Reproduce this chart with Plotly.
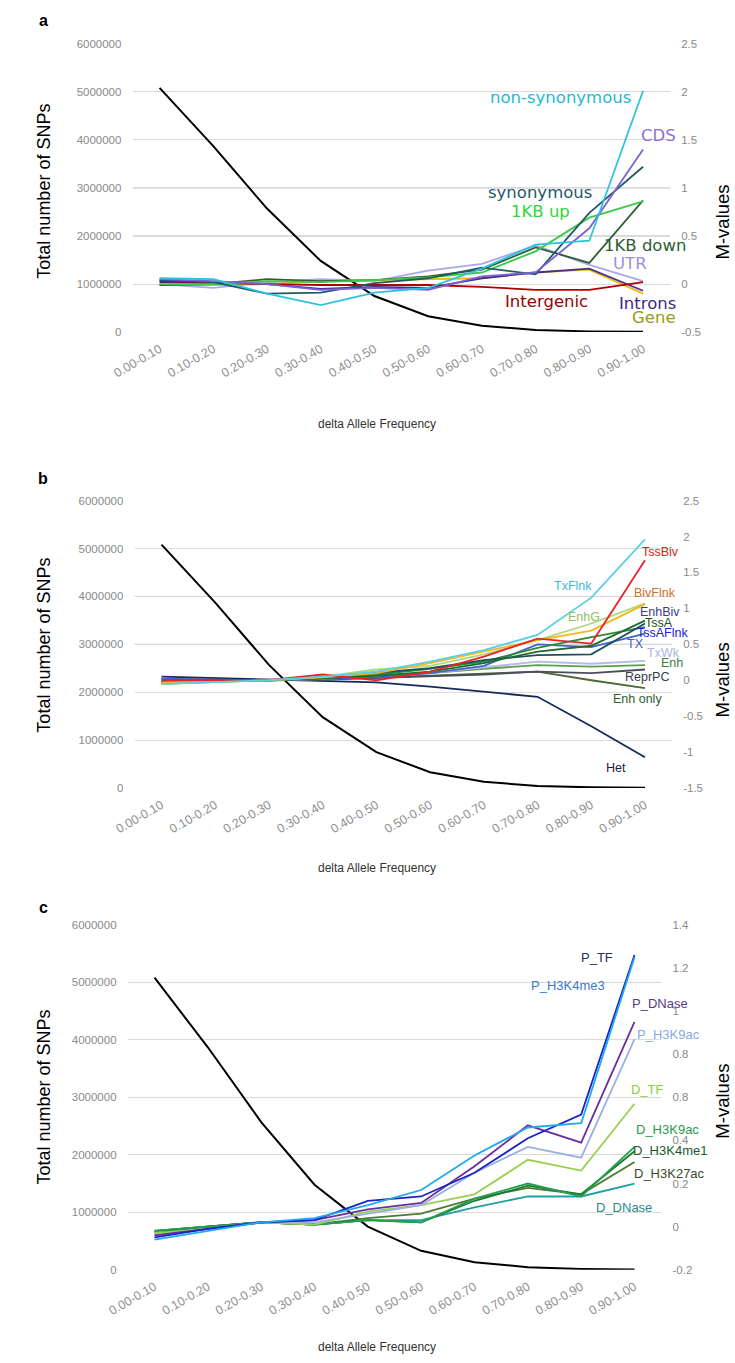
import plotly.graph_objects as go

W, H = 735, 1363

categories = ["0.00-0.10", "0.10-0.20", "0.20-0.30", "0.30-0.40", "0.40-0.50",
              "0.50-0.60", "0.60-0.70", "0.70-0.80", "0.80-0.90", "0.90-1.00"]

total_snps = [5080000, 3870000, 2570000, 1480000, 750000, 330000, 130000, 45000, 15000, 5000]

# ---- panel a (genomic annotation) M-values ----
a_nonsyn = [0.06, 0.05, -0.10, -0.22, -0.09, -0.04, 0.16, 0.41, 0.45, 2.01]
a_cds = [0.05, 0.03, 0.0, -0.06, -0.04, -0.06, 0.08, 0.12, 0.58, 1.40]
a_syn = [0.04, 0.02, -0.10, -0.09, 0.01, 0.06, 0.17, 0.10, 0.74, 1.22]
a_up1kb = [0.0, 0.0, 0.03, 0.02, 0.04, 0.07, 0.12, 0.34, 0.69, 0.86]
a_down1kb = [-0.01, 0.0, 0.05, 0.03, 0.04, 0.08, 0.15, 0.38, 0.22, 0.87]
a_utr = [0.0, -0.04, 0.02, 0.05, 0.03, 0.14, 0.21, 0.40, 0.20, 0.03]
a_intergenic = [0.03, 0.02, 0.0, -0.01, -0.01, -0.01, -0.03, -0.06, -0.06, 0.02]
a_introns = [0.02, 0.01, 0.0, -0.05, -0.03, -0.04, 0.06, 0.12, 0.16, -0.07]
a_gene = [-0.01, -0.01, 0.0, 0.03, 0.04, 0.05, 0.06, 0.12, 0.15, -0.10]

# ---- panel b (chromatin states) M-values ----
b_txflnk = [-0.05, -0.02, 0.0, 0.05, 0.12, 0.26, 0.42, 0.63, 1.15, 1.96]
b_tssbiv = [0.0, 0.0, 0.0, 0.08, 0.0, 0.12, 0.33, 0.58, 0.51, 1.67]
b_bivflnk = [-0.03, -0.01, 0.0, 0.04, 0.10, 0.24, 0.40, 0.56, 0.69, 1.06]
b_enhg = [-0.05, -0.02, 0.0, 0.05, 0.15, 0.20, 0.36, 0.56, 0.79, 1.07]
b_enhbiv = [0.0, 0.0, 0.0, 0.03, 0.06, 0.12, 0.24, 0.40, 0.48, 0.83]
b_tssa = [-0.03, -0.01, 0.0, 0.04, 0.10, 0.17, 0.28, 0.35, 0.36, 0.79]
b_tssaflnk = [-0.02, 0.0, 0.0, 0.03, 0.08, 0.16, 0.26, 0.45, 0.60, 0.74]
b_tx = [0.02, 0.01, 0.0, 0.02, 0.04, 0.10, 0.20, 0.50, 0.46, 0.65]
b_txwk = [0.0, 0.0, 0.0, 0.02, 0.05, 0.10, 0.18, 0.26, 0.23, 0.27]
b_enh = [-0.04, -0.02, 0.0, 0.03, 0.07, 0.10, 0.16, 0.21, 0.19, 0.21]
b_reprpc = [0.02, 0.01, 0.0, 0.01, 0.03, 0.05, 0.08, 0.12, 0.10, 0.15]
b_enhonly = [-0.05, -0.02, 0.0, 0.01, 0.04, 0.07, 0.10, 0.12, 0.0, -0.11]
b_het = [0.05, 0.03, 0.0, -0.01, -0.03, -0.09, -0.16, -0.23, -0.64, -1.07]

# ---- panel c (promoter / distal features) M-values ----
c_p_tf = [-0.05, -0.01, 0.02, 0.03, 0.12, 0.14, 0.25, 0.41, 0.52, 1.26]
c_p_h3k4me3 = [-0.06, -0.02, 0.02, 0.04, 0.10, 0.17, 0.33, 0.46, 0.48, 1.25]
c_p_dnase = [-0.04, -0.01, 0.02, 0.03, 0.08, 0.11, 0.28, 0.47, 0.39, 0.95]
c_p_h3k9ac = [-0.04, -0.01, 0.02, 0.02, 0.06, 0.10, 0.25, 0.37, 0.32, 0.87]
c_d_tf = [-0.03, -0.01, 0.02, 0.01, 0.07, 0.10, 0.15, 0.31, 0.26, 0.57]
c_d_h3k9ac = [-0.02, 0.0, 0.02, 0.01, 0.03, 0.02, 0.13, 0.20, 0.14, 0.37]
c_d_h3k4me1 = [-0.02, 0.0, 0.02, 0.01, 0.03, 0.02, 0.12, 0.19, 0.15, 0.35]
c_d_h3k27ac = [-0.03, 0.0, 0.02, 0.01, 0.04, 0.06, 0.13, 0.18, 0.15, 0.30]
c_d_dnase = [-0.02, 0.0, 0.02, 0.01, 0.03, 0.03, 0.09, 0.14, 0.14, 0.20]

left_ticks = [0, 1000000, 2000000, 3000000, 4000000, 5000000, 6000000]
left_ticktext = [str(v) for v in left_ticks]
a_right_ticks = [-0.5, 0, 0.5, 1, 1.5, 2, 2.5]
a_right_text = ["-0.5", "0", "0.5", "1", "1.5", "2", "2.5"]
b_right_ticks = [-1.5, -1, -0.5, 0, 0.5, 1, 1.5, 2, 2.5]
b_right_text = ["-1.5", "-1", "-0.5", "0", "0.5", "1", "1.5", "2", "2.5"]
c_right_ticks = [-0.2, 0, 0.2, 0.4, 0.6, 0.8, 1.0, 1.2, 1.4]
c_right_text = ["-0.2", "0", "0.2", "0.4", "0.8", "0.8", "1", "1.2", "1.4"]

panel_a = [
    ("UTR", a_utr, "#aaa7ea"),
    ("Gene", a_gene, "#f0b810"),
    ("Introns", a_introns, "#4b2d8f"),
    ("Intergenic", a_intergenic, "#b00000"),
    ("1KB down", a_down1kb, "#2f5f35"),
    ("1KB up", a_up1kb, "#3cc84a"),
    ("synonymous", a_syn, "#1f5a68"),
    ("CDS", a_cds, "#7b62d6"),
    ("non-synonymous", a_nonsyn, "#2cc3e0"),
]
panel_b = [
    ("Het", b_het, "#14285e"),
    ("Enh only", b_enhonly, "#4a6a30"),
    ("ReprPC", b_reprpc, "#4c4c5e"),
    ("Enh", b_enh, "#5aa04e"),
    ("TxWk", b_txwk, "#b8b8ea"),
    ("TX", b_tx, "#3f64c8"),
    ("TssAFlnk", b_tssaflnk, "#2e8a3a"),
    ("TssA", b_tssa, "#1b4f5e"),
    ("EnhBiv", b_enhbiv, "#1f6b2a"),
    ("EnhG", b_enhg, "#b0d878"),
    ("BivFlnk", b_bivflnk, "#f2b81a"),
    ("TssBiv", b_tssbiv, "#e8232b"),
    ("TxFlnk", b_txflnk, "#5ad0e6"),
]
panel_c = [
    ("D_DNase", c_d_dnase, "#1fa0a0"),
    ("D_H3K27ac", c_d_h3k27ac, "#4d7a2e"),
    ("D_H3K4me1", c_d_h3k4me1, "#1a7a30"),
    ("D_H3K9ac", c_d_h3k9ac, "#22a050"),
    ("D_TF", c_d_tf, "#9ad050"),
    ("P_H3K9ac", c_p_h3k9ac, "#9ab0e2"),
    ("P_DNase", c_p_dnase, "#6a2f9e"),
    ("P_TF", c_p_tf, "#1a22c8"),
    ("P_H3K4me3", c_p_h3k4me3, "#1eaaf0"),
]

fig = go.Figure()

def add_panel(series, xa, yl, yr):
    for name, vals, col in series:
        fig.add_trace(go.Scatter(x=categories, y=vals, mode="lines", name=name,
                                 line=dict(color=col, width=1.8),
                                 xaxis=xa, yaxis=yr))
    fig.add_trace(go.Scatter(x=categories, y=total_snps, mode="lines", name="Total SNPs",
                             line=dict(color="#000000", width=2),
                             xaxis=xa, yaxis=yl))

add_panel(panel_a, "x", "y", "y2")
add_panel(panel_b, "x2", "y3", "y4")
add_panel(panel_c, "x3", "y5", "y6")

def px(x):
    return x / W

def py(y):
    return 1 - y / H

FONT = "Liberation Sans, Arial, sans-serif"
xtickfont = dict(family=FONT, size=12.5, color="#8f8f8f")
ytickfont = dict(family=FONT, size=11.5, color="#8a8a8a")

def xaxis_cfg(x0, x1, anchor):
    return dict(domain=[px(x0), px(x1)], type="category", range=[-0.5, 9.5],
                anchor=anchor, tickangle=-30, tickfont=xtickfont, showgrid=False,
                showline=False, zeroline=False, ticks="outside", ticklen=4,
                tickcolor="rgba(0,0,0,0)")

def left_cfg(y0, y1, anchor):
    return dict(domain=[py(y1), py(y0)], range=[0, 6000000], anchor=anchor,
                tickvals=left_ticks, ticktext=left_ticktext, tickfont=ytickfont,
                showgrid=True, gridcolor="#dadada", gridwidth=1, zeroline=False,
                showline=False, ticks="outside", ticklen=8, tickcolor="rgba(0,0,0,0)")

def right_cfg(rng, tv, tt, overlay, anchor):
    return dict(range=rng, overlaying=overlay, side="right", anchor=anchor,
                tickvals=tv, ticktext=tt, tickfont=ytickfont, showgrid=False,
                zeroline=False, showline=False, ticks="outside", ticklen=8,
                tickcolor="rgba(0,0,0,0)")

# a few gridlines are drawn darker in the original
dark_grids = [("x", "y", 3000000), ("x", "y", 2000000), ("x2", "y3", 4000000), ("x2", "y3", 3000000)]
shapes = []
for xa, ya, v in dark_grids:
    shapes.append(dict(type="line", xref=xa + " domain", yref=ya, x0=0, x1=1, y0=v, y1=v,
                       line=dict(color="#b4b4b4", width=1), layer="below"))

fig.update_layout(
    width=W, height=H, margin=dict(l=0, r=0, t=0, b=0),
    paper_bgcolor="white", plot_bgcolor="white", showlegend=False,
    xaxis=xaxis_cfg(115, 668, "y"),
    yaxis=left_cfg(38, 329, "x"),
    yaxis2=right_cfg([-0.5, 2.5], a_right_ticks, a_right_text, "y", "x"),
    xaxis2=xaxis_cfg(117, 670, "y3"),
    yaxis3=left_cfg(499, 789, "x2"),
    yaxis4=right_cfg([-1.5, 2.5], b_right_ticks, b_right_text, "y3", "x2"),
    xaxis3=xaxis_cfg(110, 659, "y5"),
    yaxis5=left_cfg(927, 1275, "x3"),
    yaxis6=right_cfg([-0.2, 1.4], c_right_ticks, c_right_text, "y5", "x3"),
    shapes=shapes,
)

annotations = []

def label(text, x, y, color, size, family=FONT, angle=0, bold=False):
    t = "<b>%s</b>" % text if bold else text
    annotations.append(dict(text=t, x=px(x), y=py(y), xref="paper", yref="paper",
                            showarrow=False, xanchor="center", yanchor="middle",
                            textangle=angle, font=dict(family=family, size=size, color=color)))

# panel letters
label("a", 23, 15, "#000000", 16, bold=True)
label("b", 23, 477, "#000000", 16, bold=True)
label("c", 23, 910, "#000000", 16, bold=True)

# axis titles
for yc, ymc, xt in [(187, 218, 422), (645, 680, 870), (1101, 1105, 1353)]:
    label("Total number of SNPs", 24, yc, "#000000", 18, angle=-90)
    label("M-values", 722, ymc, "#000000", 18.5, angle=-90)
    label("delta Allele Frequency", 366, xt, "#333333", 12)

# panel a line labels
fa = "DejaVu Sans, Verdana, sans-serif"
label("non-synonymous", 555, 92, "#24b8d6", 16.5, fa)
label("CDS", 656, 131, "#8e6fd6", 16.5, fa)
label("synonymous", 534, 188, "#1e5868", 16.5, fa)
label("1KB up", 535, 207, "#2ed83a", 16.5, fa)
label("1KB down", 642, 242, "#2d5d33", 16.5, fa)
label("UTR", 627, 260, "#9a90e8", 16.5, fa)
label("Intergenic", 541, 298, "#9b0000", 16.5, fa)
label("Introns", 645, 300, "#3e2a84", 16.5, fa)
label("Gene", 652, 314, "#9a9a20", 16.5, fa)

# panel b line labels
fb = 12.5
label("TxFlnk", 568, 585, "#44b8d8", fb)
label("TssBiv", 658, 551, "#e02020", fb)
label("BivFlnk", 653, 592, "#d07030", fb)
label("EnhG", 580, 616, "#90c060", fb)
label("EnhBiv", 658, 611, "#3a3a90", fb)
label("TssA", 657, 622, "#1e4e1e", fb)
label("TssAFlnk", 660, 633, "#2020e0", fb)
label("TX", 633, 644, "#4060c0", fb)
label("TxWk", 661, 653, "#b0b4e0", fb)
label("Enh", 670, 663, "#3a7a3a", fb)
label("ReprPC", 644, 677, "#3a3a4a", fb)
label("Enh only", 635, 699, "#2e5e2e", fb)
label("Het", 612, 769, "#1a1a40", fb)

# panel c line labels
fc = 13
label("P_TF", 593, 960, "#2a2a6a", fc)
label("P_H3K4me3", 563, 988, "#3a7ad0", fc)
label("P_DNase", 658, 1006, "#5a3a8a", fc)
label("P_H3K9ac", 667, 1038, "#8aa8e0", fc)
label("D_TF", 645, 1093, "#8acc40", fc)
label("D_H3K9ac", 666, 1133, "#2a9a50", fc)
label("D_H3K4me1", 668, 1155, "#1a5a2a", fc)
label("D_H3K27ac", 668, 1178, "#3a4a2a", fc)
label("D_DNase", 621, 1212, "#2a8a8a", fc)

fig.update_layout(annotations=annotations)

fig.write_html("out.html")
